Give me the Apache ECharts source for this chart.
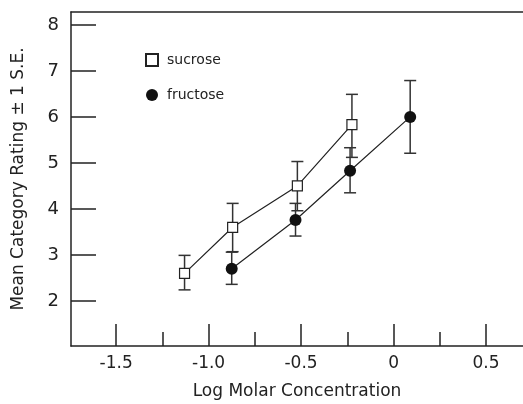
<!DOCTYPE html>
<html>
<head>
<meta charset="utf-8">
<script src="https://cdn.jsdelivr.net/npm/echarts@6/dist/echarts.min.js"></script>
<style>
  html, body { margin: 0; padding: 0; background: #fff; }
  #chart { width: 523px; height: 404px; }
</style>
</head>
<body>
<div id="chart"></div>
<script>
// values
const sucroseX = [-1.13, -0.87, -0.52, -0.225];
const sucroseY = [2.6, 3.6, 4.5, 5.83];
const sucroseLow = [2.24, 3.07, 3.96, 5.12];
const sucroseHigh = [2.99, 4.12, 5.03, 6.49];

const fructoseX = [-0.875, -0.53, -0.235, 0.09];
const fructoseY = [2.7, 3.76, 4.83, 6.0];
const fructoseLow = [2.36, 3.41, 4.35, 5.21];
const fructoseHigh = [3.06, 4.12, 5.33, 6.79];

const xMajorTicks = [-1.5, -1.0, -0.5, 0, 0.5];
const xMinorTicks = [-1.25, -0.75, -0.25, 0.25];
const yTicks = [2, 3, 4, 5, 6, 7, 8];

const ink = '#222';
const font = 'DejaVu Sans';
const xMin = -1.744, xMax = 0.70;

let myChart = echarts.init(document.getElementById('chart'));

function pts(xs, ys) {
    return xs.map((x, i) => [x, ys[i]]);
}
function bars(xs, lo, hi) {
    return xs.map((x, i) => [x, lo[i], hi[i]]);
}

// error bar with caps
function errorBar(params, api) {
    let x = api.value(0);
    let top = api.coord([x, api.value(2)]);
    let bot = api.coord([x, api.value(1)]);
    let hw = 6;
    let style = { stroke: '#333', lineWidth: 1.5 };
    return {
        type: 'group',
        children: [
            { type: 'line', shape: { x1: top[0], y1: top[1], x2: bot[0], y2: bot[1] }, style: style },
            { type: 'line', shape: { x1: top[0] - hw, y1: top[1], x2: top[0] + hw, y2: top[1] }, style: style },
            { type: 'line', shape: { x1: bot[0] - hw, y1: bot[1], x2: bot[0] + hw, y2: bot[1] }, style: style }
        ]
    };
}

myChart.setOption({
    animation: false,
    textStyle: { fontFamily: font, color: ink },
    grid: { left: 71, right: 0, top: 12, bottom: 58, outerBoundsMode: 'none' },
    legend: {
        orient: 'vertical',
        left: 140, top: 48,
        itemWidth: 12, itemHeight: 12, itemGap: 21,
        textStyle: { fontFamily: font, fontSize: 14, color: ink, padding: [0, 0, 0, 4] },
        data: [
            { name: 'sucrose', icon: 'rect' },
            { name: 'fructose', icon: 'circle' }
        ]
    },
    xAxis: [
        {
            type: 'value', min: xMin, max: xMax,
            name: 'Log Molar Concentration', nameLocation: 'middle', nameGap: 37,
            nameTextStyle: { fontSize: 17, color: ink },
            axisLine: { onZero: false, lineStyle: { color: ink, width: 1.5 } },
            axisTick: { inside: true, length: 22, customValues: xMajorTicks, lineStyle: { color: ink, width: 1.5 } },
            axisLabel: {
                customValues: xMajorTicks, fontSize: 17, color: ink, margin: 9,
                formatter: v => (v === 0 ? '0' : v.toFixed(1))
            },
            splitLine: { show: false }
        },
        {
            type: 'value', min: xMin, max: xMax, position: 'bottom',
            axisLine: { show: false },
            axisTick: { inside: true, length: 14, customValues: xMinorTicks, lineStyle: { color: ink, width: 1.5 } },
            axisLabel: { show: false },
            splitLine: { show: false }
        },
        {
            // top frame line
            type: 'value', min: xMin, max: xMax, position: 'top',
            axisLine: { show: true, onZero: false, lineStyle: { color: ink, width: 1.5 } },
            axisTick: { show: false },
            axisLabel: { show: false },
            splitLine: { show: false }
        }
    ],
    yAxis: {
        type: 'value', min: 1.02, max: 8.28,
        name: 'Mean Category Rating \u00b1 1 S.E.', nameLocation: 'middle', nameGap: 44,
        nameTextStyle: { fontSize: 17, color: ink },
        axisLine: { show: true, onZero: false, lineStyle: { color: ink, width: 1.5 } },
        axisTick: { show: true, inside: true, length: 25, customValues: yTicks, lineStyle: { color: ink, width: 1.5 } },
        axisLabel: { customValues: yTicks, fontSize: 18, color: ink, margin: 12 },
        splitLine: { show: false }
    },
    series: [
        {
            type: 'custom', renderItem: errorBar, z: 1,
            data: bars(sucroseX, sucroseLow, sucroseHigh), silent: true
        },
        {
            type: 'custom', renderItem: errorBar, z: 1,
            data: bars(fructoseX, fructoseLow, fructoseHigh), silent: true
        },
        {
            name: 'sucrose', type: 'line', z: 3,
            data: pts(sucroseX, sucroseY),
            symbol: 'rect', symbolSize: 10,
            itemStyle: { color: '#fff', borderColor: ink, borderWidth: 1.2 },
            lineStyle: { color: ink, width: 1.2 }
        },
        {
            name: 'fructose', type: 'line', z: 3,
            data: pts(fructoseX, fructoseY),
            symbol: 'circle', symbolSize: 12,
            itemStyle: { color: '#111', borderColor: '#111', borderWidth: 0 },
            lineStyle: { color: ink, width: 1.2 }
        }
    ]
});
</script>
</body>
</html>
